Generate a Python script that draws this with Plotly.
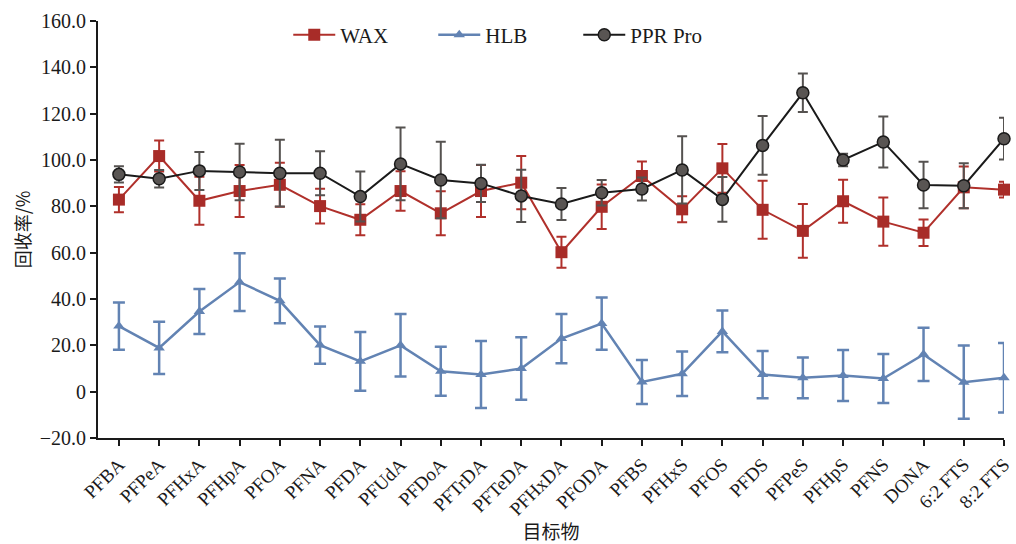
import plotly.graph_objects as go

categories = ["PFBA", "PFPeA", "PFHxA", "PFHpA", "PFOA", "PFNA", "PFDA", "PFUdA",
              "PFDoA", "PFTrDA", "PFTeDA", "PFHxDA", "PFODA", "PFBS", "PFHxS", "PFOS",
              "PFDS", "PFPeS", "PFHpS", "PFNS", "DONA", "6:2 FTS", "8:2 FTS"]

wax = [82.9, 101.7, 82.4, 86.6, 89.3, 80.1, 74.2, 86.6, 77.0, 86.6, 90.2, 60.2,
       79.8, 93.1, 78.7, 96.4, 78.5, 69.4, 82.2, 73.4, 68.6, 88.2, 87.2]
wax_err = [5.4, 6.7, 10.4, 11.2, 9.5, 7.5, 6.7, 8.5, 9.5, 11.2, 11.5, 6.7,
           9.6, 6.2, 5.6, 10.5, 12.5, 11.6, 9.3, 10.4, 5.7, 9.0, 3.4]

hlb = [28.3, 18.9, 34.6, 47.3, 39.2, 20.1, 13.1, 20.0, 8.8, 7.4, 10.0, 22.9,
       29.4, 4.2, 7.7, 26.0, 7.4, 6.0, 7.0, 5.7, 16.1, 4.1, 6.0]
hlb_err = [10.2, 11.3, 9.7, 12.5, 9.7, 8.0, 12.7, 13.5, 10.6, 14.5, 13.5, 10.6,
           11.3, 9.5, 9.6, 9.0, 10.2, 8.8, 11.0, 10.6, 11.5, 15.8, 15.0]

ppr = [93.8, 91.9, 95.3, 94.8, 94.3, 94.3, 84.2, 98.3, 91.4, 89.9, 84.5, 81.0,
       85.9, 87.5, 95.7, 83.0, 106.3, 129.0, 100.0, 107.8, 89.2, 88.9, 109.2]
ppr_err = [3.5, 3.8, 8.2, 12.2, 14.4, 9.5, 10.8, 15.7, 16.5, 8.0, 11.3, 6.9,
           5.5, 5.0, 14.5, 9.7, 12.7, 8.3, 2.7, 11.0, 10.0, 9.7, 9.0]

ytick_vals = [-20, 0, 20, 40, 60, 80, 100, 120, 140, 160]
ytick_text = ["\u221220.0", "0", "20.0", "40.0", "60.0", "80.0", "100.0", "120.0", "140.0", "160.0"]

red = "#B0302B"
blue = "#6283B3"
dark = "#1A1A1A"
gray = "#555250"

fig = go.Figure()
fig.add_trace(go.Scatter(
    x=categories, y=wax, name="WAX", mode="lines+markers",
    line=dict(color=red, width=2),
    marker=dict(symbol="square", size=12, color="#A82C28", line=dict(width=0)),
    error_y=dict(type="data", array=wax_err, visible=True, color=red, thickness=2, width=5),
    cliponaxis=False,
))
fig.add_trace(go.Scatter(
    x=categories, y=hlb, name="HLB", mode="lines+markers",
    line=dict(color=blue, width=2.5),
    marker=dict(symbol="triangle-up", size=10, color=blue, line=dict(width=0)),
    error_y=dict(type="data", array=hlb_err, visible=True, color=blue, thickness=2.5, width=6),
    cliponaxis=False,
))
fig.add_trace(go.Scatter(
    x=categories, y=ppr, name="PPR Pro", mode="lines+markers",
    line=dict(color=dark, width=2),
    marker=dict(symbol="circle", size=12, color="#595553", line=dict(width=1.5, color=dark)),
    error_y=dict(type="data", array=ppr_err, visible=True, color=gray, thickness=2, width=5),
    cliponaxis=False,
))

font_serif = "Liberation Serif, Times New Roman, serif"

fig.update_layout(
    width=1016, height=544,
    margin=dict(l=98, r=12, t=21, b=106),
    paper_bgcolor="white", plot_bgcolor="white",
    font=dict(family=font_serif, size=20, color="#1a1a1a"),
    showlegend=True,
    legend=dict(orientation="h", x=0.21, y=0.966, xanchor="left", yanchor="middle",
                bgcolor="rgba(0,0,0,0)", font=dict(size=21, family=font_serif),
                itemwidth=42, entrywidth=88, entrywidthmode="pixels", traceorder="normal"),
    xaxis=dict(
        type="category", range=[-0.52, 22.0], automargin=False,
        showline=True, linecolor="#1a1a1a", linewidth=2,
        ticks="outside", ticklen=6, tickwidth=2, tickcolor="#1a1a1a",
        tickangle=-45, tickfont=dict(size=19, family=font_serif),
        showgrid=False, zeroline=False,
        title=dict(text="目标物", font=dict(size=19, family="Noto Sans CJK SC"), standoff=14),
    ),
    yaxis=dict(
        range=[-20, 160], tickvals=ytick_vals, ticktext=ytick_text, automargin=False,
        showline=True, linecolor="#1a1a1a", linewidth=2,
        ticks="outside", ticklen=6, tickwidth=2, tickcolor="#1a1a1a",
        tickfont=dict(size=20, family=font_serif),
        showgrid=False, zeroline=False,
        title=dict(text="回收率/%", font=dict(size=18, family="Noto Sans CJK SC"), standoff=4),
    ),
)

fig.write_html("out.html")
